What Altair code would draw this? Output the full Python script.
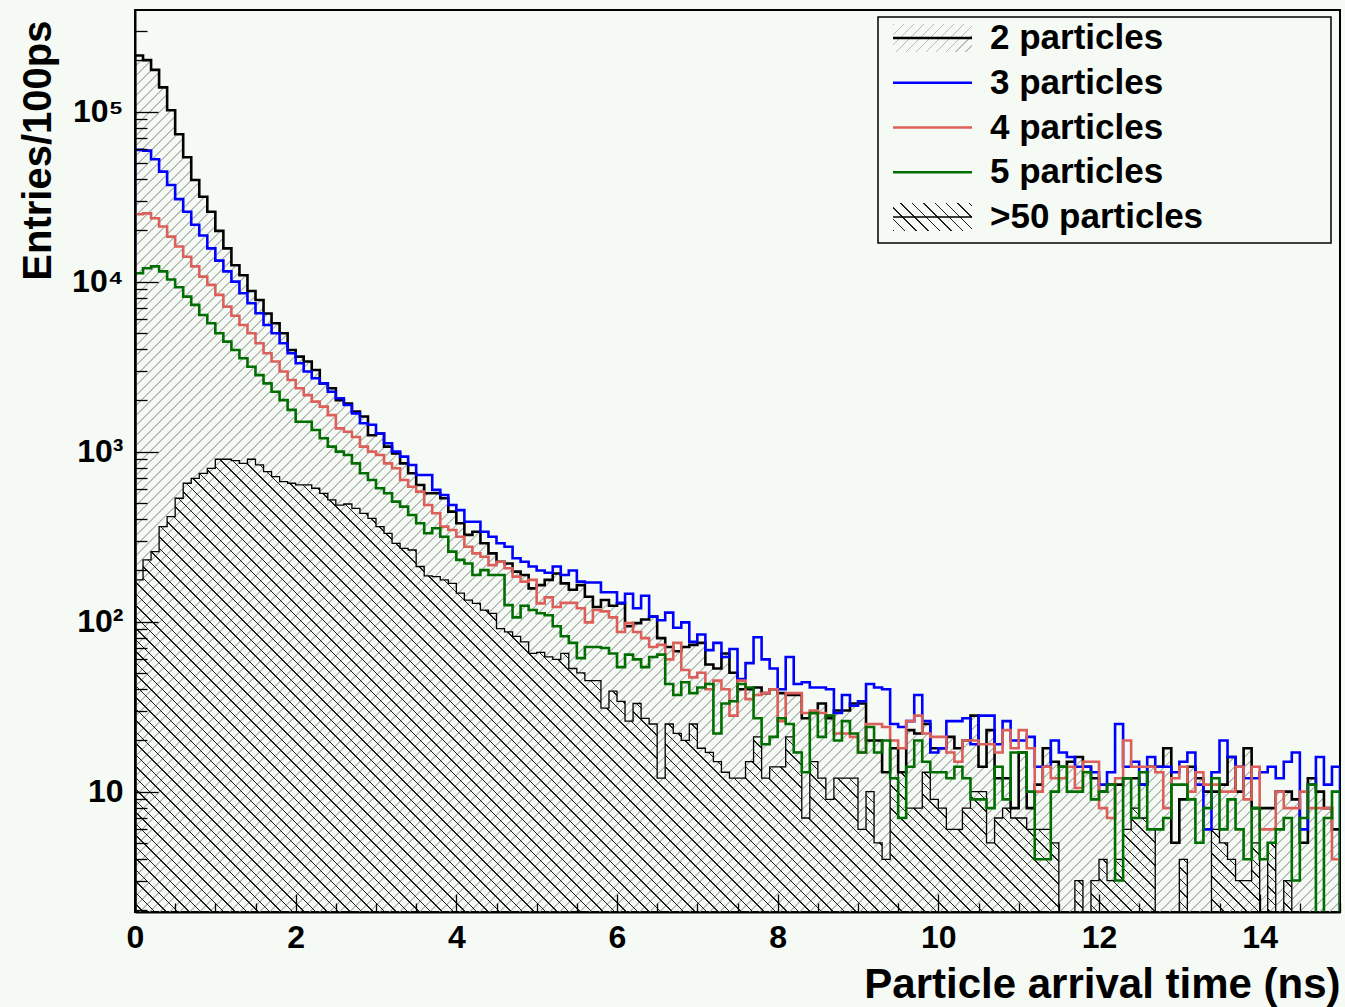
import math
import pandas as pd
import altair as alt

# ---------------- data ----------------
SERIES = ["2 particles", "3 particles", "4 particles", "5 particles", ">50 particles"]
LINE_COLORS = ["#000000", "#0000ff", "#dc5f5a", "#006e00", "#000000"]
BIN_W = 0.1
X_MAX = 15.0
X_LABELS = [0, 2, 4, 6, 8, 10, 12, 14]
Y_DECADES = [10, 100, 1000, 10000, 100000]
Y_DECADE_TEXT = ["10", "10\u00b2", "10\u00b3", "10\u2074", "10\u2075"]

P2 = [214000, 201000, 176000, 139000, 102000, 73600, 53900, 39600, 31600, 25800,
      19900, 15700, 12500, 10900, 8810, 7800, 6500, 5690, 4970, 3960,
      3620, 3390, 3020, 2520, 2360, 2010, 1920, 1720, 1610, 1250,
      1280, 1070, 977, 853, 746, 637, 569, 569, 532, 444,
      379, 324, 338, 289, 252, 225, 220, 197, 188, 157,
      164, 176, 192, 168, 154, 164, 140, 122, 134, 124,
      128, 94, 98, 103, 107, 80, 71, 67, 71, 73,
      75, 56, 53, 65, 50, 40, 40, 41, 38, 40,
      38, 37, 37, 27, 29, 33, 27, 30, 30, 33,
      33, 20, 20, 13, 18, 13, 23, 22, 25, 18,
      18, 21, 18, 20, 28, 14, 23, 12, 12, 8,
      17, 8, 11, 18, 15, 14, 15, 16, 14, 12,
      10, 11, 11, 12, 12, 11, 14, 14, 18, 5,
      9, 14, 12, 10, 10, 11, 16, 10, 18, 8,
      8, 8, 10, 10, 9, 5, 12, 10, 8, 6]

P3 = [59600, 59000, 52500, 44400, 37000, 30600, 25800, 21600, 18700, 15700,
      13300, 11500, 10000, 8550, 7470, 6520, 5560, 4970, 4340, 3790,
      3310, 2960, 2700, 2520, 2250, 2060, 1880, 1680, 1470, 1440,
      1280, 1120, 1000, 935, 835, 729, 729, 596, 556, 485,
      453, 387, 387, 338, 316, 289, 276, 236, 225, 211,
      200, 194, 211, 188, 200, 172, 170, 170, 149, 149,
      129, 146, 120, 142, 107, 102, 113, 92, 99, 76,
      84, 68, 75, 62, 69, 46, 57, 81, 60, 53,
      40, 62, 43, 44, 41, 41, 40, 29, 37, 32,
      34, 43, 41, 40, 25, 24, 26, 37, 26, 17,
      18, 26, 26, 27, 19, 28, 28, 19, 26, 20,
      20, 21, 14, 14, 20, 17, 16, 14, 14, 13,
      11, 13, 25, 14, 15, 11, 16, 14, 14, 13,
      15, 17, 11, 6, 13, 20, 16, 14, 12, 12,
      13, 14, 12, 15, 17, 6, 11, 16, 11, 14]

P4 = [24900, 25200, 23600, 21100, 18400, 16100, 14000, 12300, 10700, 9570,
      8360, 7130, 6300, 5560, 4970, 4340, 3790, 3390, 2960, 2640,
      2360, 2150, 1970, 1840, 1640, 1370, 1310, 1220, 1070, 1000,
      955, 853, 798, 681, 622, 582, 485, 434, 362, 346,
      316, 276, 252, 241, 215, 225, 206, 184, 172, 176,
      128, 139, 122, 129, 129, 120, 99, 117, 115, 106,
      87, 98, 87, 80, 71, 73, 60, 75, 52, 47,
      50, 40, 45, 40, 28, 45, 35, 37, 38, 40,
      26, 38, 38, 29, 30, 29, 28, 22, 22, 21,
      17, 25, 25, 24, 20, 18, 26, 28, 22, 21,
      21, 17, 15, 20, 20, 19, 19, 17, 23, 18,
      23, 18, 10, 14, 12, 12, 14, 10.5, 15, 15,
      8, 7, 12, 20, 14, 14, 14, 13, 8, 12,
      14, 10, 13, 11, 11, 10, 10, 14, 9, 14,
      6, 6, 10, 8, 8, 10, 8, 8, 8, 4]

P5 = [11200, 12000, 12300, 11500, 10300, 9270, 8160, 7300, 6370, 5690,
      4970, 4440, 3960, 3540, 3160, 2820, 2520, 2250, 2010, 1760,
      1500, 1500, 1340, 1200, 1070, 1000, 955, 853, 746, 681,
      609, 569, 508, 475, 424, 379, 331, 354, 316, 258,
      231, 220, 188, 201, 188, 188, 125, 106, 124, 117,
      112, 109, 94, 82, 75, 61, 71, 71, 70, 65,
      54, 64, 60, 54, 62, 64, 43, 37, 44, 38,
      41, 43, 22, 33, 34, 43, 41, 27, 19, 21,
      27, 25, 17, 13, 29, 21, 28, 20, 26, 22,
      17, 24, 17, 20, 12, 7, 14, 20, 15, 13,
      13, 12, 14, 12, 9, 9, 8, 14, 9, 17,
      17, 10, 4, 4, 10, 14, 10, 10, 13, 9,
      10, 11, 3, 12, 7, 13, 6, 6, 7, 11,
      11, 9, 5, 8, 12, 6, 9, 6, 4, 8,
      4, 5, 6, 7, 3, 7, 11, 0, 7, 10]

P50 = [176, 231, 258, 362, 415, 532, 652, 697, 746, 798,
       902, 902, 885, 853, 902, 835, 763, 713, 666, 652,
       637, 637, 609, 569, 520, 485, 492, 464, 434, 405,
       362, 331, 289, 270, 264, 211, 186, 184, 176, 168,
       147, 134, 128, 117, 112, 91, 87, 82, 76, 65,
       66, 62, 60, 65, 53, 50, 45, 45, 31, 39,
       34, 26, 33, 27, 25, 12, 25, 22, 20, 25,
       18, 17, 15, 13, 12, 12, 15, 21, 12, 14,
       14, 21, 17, 7, 15, 12, 9, 12, 12, 12,
       6, 10, 5, 4, 12, 13, 8, 8, 13, 9,
       8, 6, 6, 8, 10, 10, 5, 7, 8, 7,
       7, 6, 6, 6, 5, 0, 0, 3, 0, 3,
       4, 3, 4, 6, 8, 7, 6, 0, 0, 0,
       4, 0, 0, 0, 6, 5, 4, 3, 3, 5,
       0, 5, 0, 3, 0, 0, 0, 0, 0, 0]

VALUES = [P2, P3, P4, P5, P50]

# ---------------- layout / style ----------------
W, H = 1205, 902
PAD = {"left": 135, "top": 10, "right": 5, "bottom": 95}
LOG_MIN, LOG_MAX = 0.292, 5.598
Y_MIN, Y_MAX = 10 ** LOG_MIN, 10 ** LOG_MAX
PPD = H / (LOG_MAX - LOG_MIN)
FLOOR = 1.0  # empty bins are drawn below the frame (clipped)
BG = "#f5faf5"
FONT = "Liberation Sans"


def ypx(v):
    return (LOG_MAX - math.log10(v)) * PPD


line_rows = []
area_rows = []
for name, vals in zip(SERIES, VALUES):
    vv = [v if v > 0 else FLOOR for v in vals]
    k = 0
    line_rows.append((name, 0.0, FLOOR, k)); k += 1
    for i, v in enumerate(vv):
        line_rows.append((name, round(i * BIN_W, 4), v, k)); k += 1
        area_rows.append((name, round(i * BIN_W, 4), v, Y_MIN))
    line_rows.append((name, X_MAX, FLOOR, k))
    area_rows.append((name, X_MAX, vv[-1], Y_MIN))
df_line = pd.DataFrame(line_rows, columns=["series", "t", "n", "k"])
df_area = pd.DataFrame(area_rows, columns=["series", "t", "n", "base"])


def hatch(w, h, period, lw, color, back=False):
    L = w + h
    kk = L * w / (w * w + h * h)
    clear = "rgba(255,255,255,0)"
    stops = []
    j = 0
    while j * period < L:
        a = round(j * period / L, 6)
        b = round(min((j * period + lw) / L, 1.0), 6)
        stops.append(alt.GradientStop(offset=a, color=color))
        stops.append(alt.GradientStop(offset=b, color=color))
        stops.append(alt.GradientStop(offset=b, color=clear))
        j += 1
        stops.append(alt.GradientStop(offset=round(min(j * period / L, 1.0), 6), color=clear))
    if back:
        return alt.LinearGradient(gradient="linear", stops=stops,
                                  x1=0, y1=1, x2=kk, y2=1 - kk * h / w)
    return alt.LinearGradient(gradient="linear", stops=stops,
                              x1=0, y1=0, x2=kk, y2=kk * h / w)


def area_box(vals):
    vv = [v if v > 0 else FLOOR for v in vals]
    top = ypx(max(vv))
    bottom = max(H, ypx(min(vv)))
    return W, bottom - top


xs = alt.Scale(domain=[0, X_MAX], nice=False, zero=False)
ys = alt.Scale(type="log", domain=[Y_MIN, Y_MAX], nice=False)

label_expr = " : ".join(
    f"datum.value == {v} ? '{t}'" for v, t in zip(Y_DECADES[:-1], Y_DECADE_TEXT[:-1])
) + f" : '{Y_DECADE_TEXT[-1]}'"

x_label_axis = alt.Axis(orient="bottom", values=X_LABELS, ticks=False, tickSize=0,
                        domain=False, grid=False, labelFont=FONT, labelFontSize=32,
                        labelFontWeight="bold", labelColor="black", labelPadding=10,
                        labelFlush=False, format="d",
                        title="Particle arrival time (ns)", titleFont=FONT,
                        titleFontSize=42, titleFontWeight="bold", titleColor="black",
                        titleX=W, titleY=85, titleAlign="right", titleBaseline="alphabetic")
y_label_axis = alt.Axis(orient="left", values=Y_DECADES, labelExpr=label_expr, ticks=False,
                        tickSize=0, domain=False, grid=False, labelFont=FONT,
                        labelFontSize=32, labelFontWeight="bold", labelColor="black",
                        labelPadding=12, title="Entries/100ps", titleFont=FONT,
                        titleFontSize=40, titleFontWeight="bold", titleColor="black",
                        titleAngle=270, titleX=-97, titleY=10, titleAlign="right",
                        titleBaseline="middle")

X_TICKS = [i * 0.5 for i in range(31)]
Y_TICKS = []
for d in [1, 10, 100, 1000, 10000, 100000]:
    for m in range(1, 10):
        v = m * d
        if Y_MIN <= v <= Y_MAX:
            Y_TICKS.append(v)

x_tick_axis = alt.Axis(orient="top", offset=-H, values=X_TICKS, labels=False, domain=True,
                       domainColor="black", domainWidth=2, grid=False, tickColor="black",
                       tickWidth=1.3,
                       tickSize={"condition": {"test": "abs(datum.value/2 - round(datum.value/2)) < 0.001",
                                               "value": 18}, "value": 9},
                       title=None, zindex=1)
y_tick_axis = alt.Axis(orient="right", offset=-W, values=Y_TICKS, labels=False, domain=True,
                       domainColor="black", domainWidth=2, grid=False, tickColor="black",
                       tickWidth=1.3,
                       tickSize={"condition": {"test": "abs(log(datum.value)/LN10 - round(log(datum.value)/LN10)) < 0.001",
                                               "value": 23}, "value": 12},
                       title=None, zindex=1)

base_line = alt.Chart(df_line)
base_area = alt.Chart(df_area)


def flt(name):
    return alt.datum.series == name


w2, h2 = area_box(P2)
area2 = base_area.transform_filter(flt(SERIES[0])).mark_area(
    interpolate="step-after", clip=True,
    fill=hatch(w2, h2, 10.0, 1.6, "#b9bdb9")
).encode(
    x=alt.X("t:Q", scale=xs, axis=x_label_axis),
    y=alt.Y("n:Q", scale=ys, axis=y_label_axis),
    y2=alt.Y2("base:Q"),
)

w50, h50 = area_box(P50)
area50 = base_area.transform_filter(flt(SERIES[4])).mark_area(
    interpolate="step-after", clip=True,
    fill=hatch(w50, h50, 11.5, 1.5, "#1e1e1e", back=True)
).encode(
    x=alt.X("t:Q", scale=xs, axis=None),
    y=alt.Y("n:Q", scale=ys, axis=None),
    y2=alt.Y2("base:Q"),
)


def line(idx, width, axes=False):
    return base_line.transform_filter(flt(SERIES[idx])).mark_line(
        interpolate="step-after", clip=True, color=LINE_COLORS[idx], strokeWidth=width,
        strokeJoin="miter"
    ).encode(
        x=alt.X("t:Q", scale=xs, axis=x_tick_axis if axes else None),
        y=alt.Y("n:Q", scale=ys, axis=y_tick_axis if axes else None),
        order=alt.Order("k:Q"),
    )


line50 = line(4, 1.3)
line2 = line(0, 2.6)
line3 = line(1, 2.6)
line4 = line(2, 2.6)
line5 = line(3, 2.6, axes=True)

# ---------------- legend (drawn as marks) ----------------
LEG_X0, LEG_X1, LEG_Y0, LEG_Y1 = 743, 1196, 7, 233
SYM_X0, SYM_X1, TXT_X = 758, 837, 855
ROW0, ROW_DY = 28, 44.75

one = pd.DataFrame({"a": [0]})
leg_box = alt.Chart(one).mark_rect(fill=BG, stroke="black", strokeWidth=1.5).encode(
    x=alt.value(LEG_X0), x2=alt.value(LEG_X1), y=alt.value(LEG_Y0), y2=alt.value(LEG_Y1))
leg_h2 = alt.Chart(one).mark_rect(fill=hatch(SYM_X1 - SYM_X0, 28, 10.0, 1.6, "#b9bdb9")).encode(
    x=alt.value(SYM_X0), x2=alt.value(SYM_X1), y=alt.value(ROW0 - 14), y2=alt.value(ROW0 + 14))
leg_h50 = alt.Chart(one).mark_rect(fill=hatch(SYM_X1 - SYM_X0, 28, 11.5, 1.5, "#1e1e1e", back=True)).encode(
    x=alt.value(SYM_X0), x2=alt.value(SYM_X1),
    y=alt.value(ROW0 + 4 * ROW_DY - 14), y2=alt.value(ROW0 + 4 * ROW_DY + 14))

leg_df = pd.DataFrame({"label": SERIES, "col": LINE_COLORS, "row": list(range(len(SERIES)))})
leg_base = alt.Chart(leg_df).transform_calculate(
    py=f"{ROW0} + datum.row * {ROW_DY}",
    sw="datum.row == 4 ? 1.3 : 2.6",
)
leg_lines = leg_base.mark_rule().encode(
    x=alt.value(SYM_X0), x2=alt.value(SYM_X1),
    y=alt.Y("py:Q", scale=None, axis=None),
    color=alt.Color("col:N", scale=None, legend=None),
    strokeWidth=alt.StrokeWidth("sw:Q", scale=None, legend=None),
)
leg_text = leg_base.mark_text(align="left", baseline="middle", font=FONT, fontSize=35,
                              fontWeight="bold", color="black").encode(
    x=alt.value(TXT_X),
    y=alt.Y("py:Q", scale=None, axis=None),
    text="label:N",
)

chart = alt.layer(
    area2, area50, line50, line2, line3, line4, line5,
    leg_box, leg_h2, leg_h50, leg_lines, leg_text
).resolve_axis(x="independent", y="independent").properties(
    width=W, height=H,
    autosize=alt.AutoSizeParams(type="none"),
    padding=PAD,
    background=BG,
).configure_view(fill=BG, stroke="black", strokeWidth=2)

chart.save("out.html", embed_options={"renderer": "svg", "actions": False})
